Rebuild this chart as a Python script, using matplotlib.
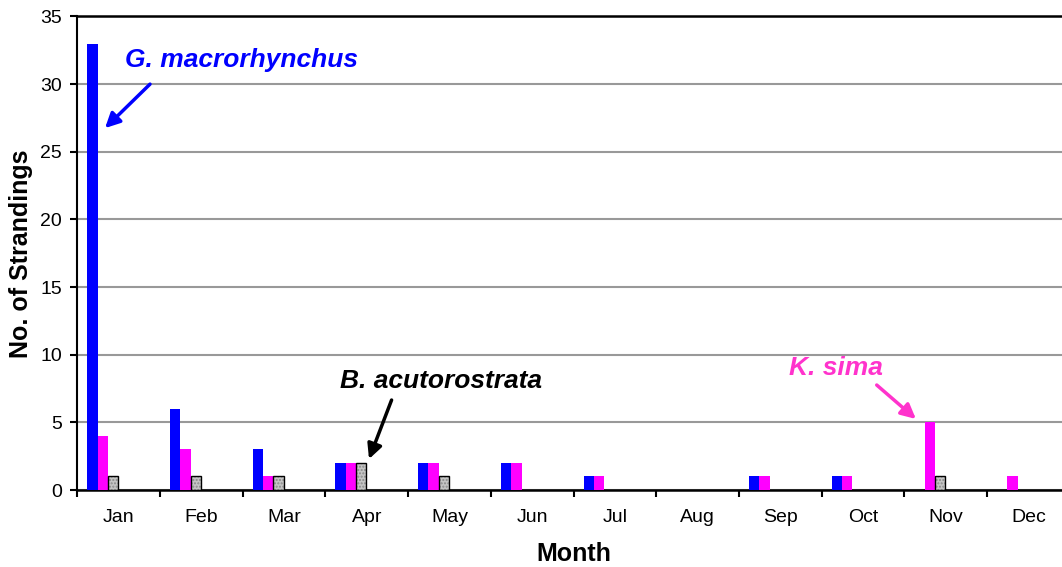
import matplotlib
matplotlib.use("Agg")
import matplotlib.pyplot as plt
import numpy as np

plt.rcParams['font.family'] = ['Liberation Sans', 'DejaVu Sans']

months = ["Jan", "Feb", "Mar", "Apr", "May", "Jun", "Jul", "Aug", "Sep", "Oct", "Nov", "Dec"]
g_macrorhynchus = [33, 6, 3, 2, 2, 2, 1, 0, 1, 1, 0, 0]
k_sima = [4, 3, 1, 2, 2, 2, 1, 0, 1, 1, 5, 1]
b_acutorostrata = [1, 1, 1, 2, 1, 0, 0, 0, 0, 0, 1, 0]
yticks = [0, 5, 10, 15, 20, 25, 30, 35]

BLUE = "#0000ff"
MAGENTA = "#ff00ff"
PINK_TXT = "#ff33cc"
GREY = "#c4c4c4"

fig = plt.figure(figsize=(10.62, 5.67), dpi=100)
ax = fig.add_axes([0.0728, 0.1358, 1.0073 - 0.0728, 0.9709 - 0.1358])

x = np.arange(len(months))
w = 0.125
off = 0.121

ax.bar(x + off, g_macrorhynchus, width=w, align='edge', color=BLUE, linewidth=0, zorder=3)
ax.bar(x + off + w, k_sima, width=w, align='edge', color=MAGENTA, linewidth=0, zorder=3)
bvals = np.array(b_acutorostrata, dtype=float)
mask = bvals > 0
ax.bar((x + off + 2 * w)[mask], bvals[mask], width=w, align='edge', color=GREY,
       edgecolor="#8a8a8a", hatch='.....', linewidth=0, zorder=3)
ax.bar((x + off + 2 * w)[mask], bvals[mask], width=w, align='edge', fill=False,
       edgecolor="black", linewidth=1.0, zorder=4)

ax.set_xlim(0, 12)
ax.set_ylim(0, 35)
ax.set_yticks(yticks)
ax.set_yticklabels([str(v) for v in yticks], fontsize=14)
ax.set_xticks(np.arange(0, 13), minor=False)
ax.set_xticklabels([])
ax.set_xticks(x + 0.5, minor=True)
ax.set_xticklabels(months, minor=True, fontsize=14)
ax.tick_params(axis='x', which='minor', length=0, pad=14)
ax.tick_params(axis='x', which='major', length=5, width=1.5, direction='out')
ax.tick_params(axis='y', length=5, width=1.5, direction='out', pad=6)

ax.grid(axis='y', color='#999999', linewidth=1.5, zorder=0)
ax.set_axisbelow(True)
ax.spines['right'].set_visible(False)
ax.spines['top'].set_linewidth(1.8)
ax.spines['left'].set_linewidth(1.5)
ax.spines['bottom'].set_linewidth(1.8)

ax.set_ylabel("No. of Strandings", fontsize=18, fontweight='bold', labelpad=5)
ax.set_xlabel("Month", fontsize=18, fontweight='bold', labelpad=11)

arrow_kw = dict(arrowstyle='-|>', lw=2.5, mutation_scale=22, shrinkA=0, shrinkB=0)

ax.text(0.578, 31.78, "G. macrorhynchus", color=BLUE, fontsize=19, fontweight='bold',
        fontstyle='italic', ha='left', va='center')
ax.annotate("", xy=(0.335, 26.75), xytext=(0.879, 30.0),
            arrowprops=dict(color=BLUE, **arrow_kw))

ax.text(3.177, 8.06, "B. acutorostrata", color='black', fontsize=19, fontweight='bold',
        fontstyle='italic', ha='left', va='center')
ax.annotate("", xy=(3.527, 2.29), xytext=(3.80, 6.65),
            arrowprops=dict(color='black', **arrow_kw))

ax.text(8.61, 9.02, "K. sima", color=PINK_TXT, fontsize=19, fontweight='bold',
        fontstyle='italic', ha='left', va='center')
ax.annotate("", xy=(10.14, 5.25), xytext=(9.666, 7.76),
            arrowprops=dict(color=PINK_TXT, **arrow_kw))

fig.savefig("out.png", dpi=100)
